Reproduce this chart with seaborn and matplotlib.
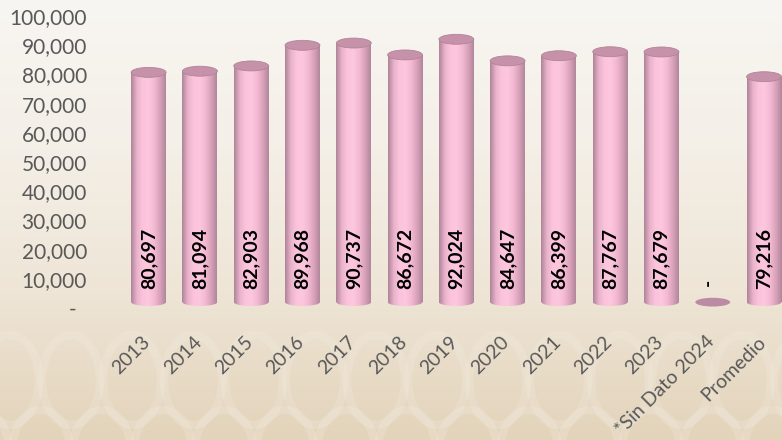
import numpy as np
import pandas as pd
import matplotlib.pyplot as plt
import seaborn as sns
import matplotlib.transforms as mtransforms
from matplotlib.patches import Ellipse
from matplotlib.colors import LinearSegmentedColormap
from matplotlib.ticker import FuncFormatter

# ------------------------------------------------------------ #
# data
# ------------------------------------------------------------ #
years = ['2013', '2014', '2015', '2016', '2017', '2018', '2019',
         '2020', '2021', '2022', '2023', '*Sin Dato 2024', 'Promedio']
values = [80697, 81094, 82903, 89968, 90737, 86672, 92024,
          84647, 86399, 87767, 87679, 0, 79216]
value_labels = ['80,697', '81,094', '82,903', '89,968', '90,737', '86,672', '92,024',
                '84,647', '86,399', '87,767', '87,679', '-', '79,216']
y_ticks = list(range(0, 100001, 10000))

df = pd.DataFrame({'Año': years, 'Total': values})

sns.set_theme(style='white')
plt.rcParams['font.family'] = ['Lato', 'DejaVu Sans']

fig = plt.figure(figsize=(7.82, 4.40), dpi=100)

# background gradient + very faint arch pattern at the bottom
bg = fig.add_axes([0, 0, 1, 1])
bg_cmap = LinearSegmentedColormap.from_list('bg', ['#f8f6f2', '#f4efe7', '#eee5d6', '#e3d3ba'])
bg.imshow(np.linspace(0, 1, 256).reshape(-1, 1), aspect='auto', cmap=bg_cmap,
          extent=[0, 782, 440, 0])
for cx in np.arange(-20, 820, 61):
    bg.add_patch(Ellipse((cx + 30, 380), 58, 90, fill=False, edgecolor='#f6f1e8',
                         lw=6, alpha=0.22))
    bg.add_patch(Ellipse((cx, 450), 58, 80, fill=False, edgecolor='#f6f1e8',
                         lw=6, alpha=0.22))
bg.set_xlim(0, 782)
bg.set_ylim(440, 0)
bg.axis('off')

ax = fig.add_axes([123 / 782, 132 / 440, 659 / 782, 292 / 440])
ax.patch.set_alpha(0)

sns.barplot(data=df, x='Año', y='Total', width=0.68, color='#f9c1d9',
            saturation=1, ax=ax)

# cylinder look
bar_cmap = LinearSegmentedColormap.from_list(
    'bar', ['#b0849a', '#e9b3cb', '#fcc4dc', '#fdc7de', '#f4bad3', '#d9a3ba', '#b2869b'])
base = 2000
grad = np.linspace(0, 1, 100).reshape(1, -1)
for patch, val in zip(ax.patches, values):
    x0 = patch.get_x()
    w = patch.get_width()
    xc = x0 + w / 2
    if val == 0:
        patch.set_visible(False)
        ax.add_patch(Ellipse((xc, base), w, 3000, facecolor='#bb8ba3',
                             edgecolor='none', zorder=3))
        continue
    patch.set_y(base)
    patch.set_height(val - base)
    patch.set_facecolor('none')
    patch.set_edgecolor('none')
    bottom = Ellipse((xc, base), w, 2600, fill=False, lw=0)
    ax.add_patch(bottom)
    for clip in (patch, bottom):
        im = ax.imshow(grad, extent=[x0, x0 + w, base - 1500, val], cmap=bar_cmap,
                       aspect='auto', zorder=2)
        im.set_clip_path(clip)
    ax.add_patch(Ellipse((xc, val), w, 3400, facecolor='#c592a9',
                         edgecolor='#b48398', lw=0.6, zorder=4))

for i, (val, lab) in enumerate(zip(values, value_labels)):
    if val == 0:
        ax.text(i - 0.08, 7500, lab, rotation=90, ha='center', va='bottom',
                fontsize=14, fontweight='bold', color='black', zorder=5)
    else:
        ax.text(i, 6500, lab, rotation=90, ha='center', va='bottom',
                fontsize=14, fontweight='bold', color='black', zorder=5)

ax.set_xlim(-0.5, 12.35)
ax.set_ylim(0, 100000)
ax.set_yticks(y_ticks)
ax.yaxis.set_major_formatter(FuncFormatter(lambda v, p: '-  ' if v == 0 else f'{int(v):,}'))
ax.set_xlabel('')
ax.set_ylabel('')
sns.despine(ax=ax, left=True, bottom=True)
ax.tick_params(axis='y', length=0, pad=26, labelsize=15, labelcolor='#595959')
ax.tick_params(axis='x', length=0, pad=18, labelsize=14, labelcolor='#595959')
shift = mtransforms.ScaledTranslation(-7 / 100, 0, fig.dpi_scale_trans)
for t in ax.get_xticklabels():
    t.set_rotation(45)
    t.set_ha('right')
    t.set_va('top')
    t.set_rotation_mode('anchor')
    t.set_transform(t.get_transform() + shift)

fig.savefig('out.png', dpi=100)
